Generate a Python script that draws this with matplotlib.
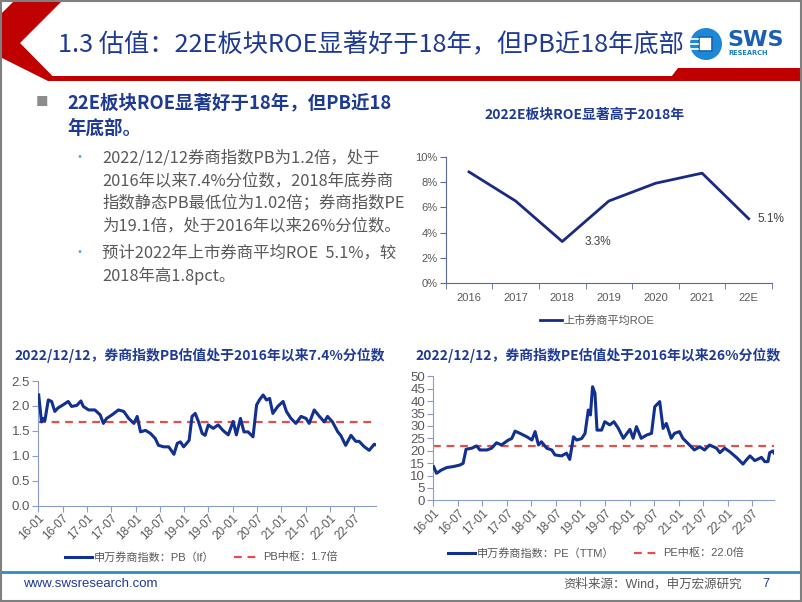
import matplotlib
matplotlib.use("Agg")
import matplotlib.pyplot as plt
import matplotlib.dates as mdates
from matplotlib.patches import Polygon, Rectangle, Circle
from matplotlib.ticker import FormatStrFormatter
import pandas as pd

W, H = 802, 602

# ---- data ----
roe_years = ["2016", "2017", "2018", "2019", "2020", "2021", "22E"]
roe_values = [0.088, 0.065, 0.033, 0.065, 0.079, 0.087, 0.051]
roe_labelled = ["2018", "22E"]

pb_dates = [
    "2016-01-04", "2016-01-25", "2016-02-04", "2016-02-19", "2016-03-16", "2016-04-10",
    "2016-05-04", "2016-05-28", "2016-07-04", "2016-08-13", "2016-09-07", "2016-10-16",
    "2016-11-16", "2016-12-04", "2017-01-13", "2017-03-01", "2017-04-10", "2017-05-04",
    "2017-05-28", "2017-07-07", "2017-08-25", "2017-10-04", "2017-11-10", "2017-12-19",
    "2018-01-13", "2018-02-07", "2018-03-16", "2018-04-22", "2018-05-28", "2018-06-22",
    "2018-08-01", "2018-09-07", "2018-10-16", "2018-11-10", "2018-12-04", "2018-12-28",
    "2019-02-07", "2019-03-01", "2019-03-25", "2019-04-19", "2019-05-16", "2019-06-07",
    "2019-07-01", "2019-08-07", "2019-09-13", "2019-10-19", "2019-11-28", "2020-01-04",
    "2020-01-28", "2020-02-28", "2020-03-25", "2020-04-25", "2020-06-01", "2020-06-28",
    "2020-07-19", "2020-08-16", "2020-09-10", "2020-10-04", "2020-10-28", "2020-12-04",
    "2021-01-13", "2021-02-07", "2021-03-13", "2021-04-19", "2021-05-28", "2021-07-04",
    "2021-07-28", "2021-09-04", "2021-10-13", "2021-11-19", "2021-12-13", "2022-01-19",
    "2022-02-28", "2022-03-22", "2022-04-28", "2022-06-07", "2022-07-13", "2022-08-07",
    "2022-09-16", "2022-10-22", "2022-11-28", "2022-12-12",
]
pb_values = [
    2.22, 1.68, 1.75, 1.70, 2.12, 2.09,
    1.89, 1.96, 2.02, 2.09, 1.99, 2.01,
    2.10, 1.99, 1.92, 1.92, 1.82, 1.65,
    1.75, 1.82, 1.92, 1.89, 1.75, 1.65,
    1.79, 1.48, 1.51, 1.45, 1.35, 1.21,
    1.18, 1.18, 1.03, 1.25, 1.28, 1.18,
    1.31, 1.79, 1.85, 1.68, 1.45, 1.41,
    1.62, 1.55, 1.62, 1.51, 1.42, 1.69,
    1.42, 1.75, 1.48, 1.48, 1.38, 2.02,
    2.12, 2.22, 2.12, 2.15, 1.85, 1.99,
    2.09, 1.89, 1.75, 1.65, 1.79, 1.75,
    1.65, 1.92, 1.79, 1.68, 1.79, 1.68,
    1.48, 1.41, 1.21, 1.41, 1.29, 1.29,
    1.18, 1.11, 1.23, 1.22,
]
pb_center = 1.68

pe_dates = [
    "2016-01-04", "2016-01-25", "2016-03-01", "2016-04-10", "2016-05-28", "2016-07-16",
    "2016-08-10", "2016-09-01", "2016-10-13", "2016-11-19", "2016-12-13", "2017-02-04",
    "2017-03-10", "2017-04-16", "2017-05-22", "2017-07-13", "2017-08-07", "2017-09-01",
    "2017-10-07", "2017-11-28", "2018-01-04", "2018-01-28", "2018-02-22", "2018-03-16",
    "2018-04-25", "2018-06-01", "2018-06-25", "2018-08-13", "2018-09-19", "2018-10-13",
    "2018-11-10", "2018-12-04", "2019-01-10", "2019-02-04", "2019-02-28", "2019-03-16",
    "2019-04-01", "2019-04-19", "2019-05-04", "2019-06-07", "2019-07-01", "2019-08-07",
    "2019-09-07", "2019-10-10", "2019-11-16", "2020-01-04", "2020-01-28", "2020-02-22",
    "2020-03-28", "2020-05-07", "2020-06-13", "2020-07-07", "2020-08-13", "2020-09-07",
    "2020-10-01", "2020-11-07", "2020-12-01", "2021-01-07", "2021-02-01", "2021-03-10",
    "2021-04-28", "2021-06-07", "2021-07-13", "2021-08-19", "2021-10-10", "2021-11-04",
    "2021-12-10", "2022-01-16", "2022-03-07", "2022-04-25", "2022-05-19", "2022-06-16",
    "2022-07-22", "2022-09-10", "2022-10-04", "2022-10-28", "2022-11-10", "2022-12-04",
    "2022-12-12",
]
pe_values = [
    13.5, 10.9, 12.2, 13.2, 13.6, 14.2,
    14.9, 20.6, 21.0, 21.9, 20.3, 20.3,
    21.0, 23.2, 22.3, 24.3, 24.9, 27.9,
    27.0, 25.6, 24.3, 27.7, 22.3, 23.6,
    21.0, 20.3, 18.3, 17.9, 19.0, 16.5,
    25.6, 24.3, 24.9, 27.0, 36.4, 34.4,
    45.8, 43.1, 28.3, 28.3, 31.7, 30.4,
    31.7, 29.0, 25.0, 28.6, 25.0, 29.7,
    25.0, 26.3, 27.0, 37.7, 39.8, 29.0,
    31.0, 25.0, 27.0, 27.7, 25.0, 23.0,
    20.3, 21.6, 20.3, 22.3, 21.0, 19.2,
    21.0, 19.6, 17.3, 14.6, 16.2, 17.9,
    16.0, 17.3, 15.6, 15.6, 19.2, 19.9,
    19.1,
]
pe_center = 22.0

tick_dates = pd.date_range("2016-01-01", "2022-07-01", freq="6MS")

# ---- style ----
NAVY = "#1F3A93"
GREY = "#595959"
LINE = "#12308F"
RED = "#E0504F"
AXIS = "#8A9CC8"
CJK = ["Noto Sans CJK SC", "DejaVu Sans"]
MIX = ["Liberation Sans", "Noto Sans CJK SC"]
plt.rcParams["font.family"] = MIX

fig = plt.figure(figsize=(W / 100, H / 100), dpi=100, facecolor="white")
bg = fig.add_axes([0, 0, 1, 1])
bg.set_xlim(0, W)
bg.set_ylim(H, 0)
bg.axis("off")


def px_axes(x0, y0, x1, y1):
    return fig.add_axes([x0 / W, 1 - y1 / H, (x1 - x0) / W, (y1 - y0) / H])


# header: red chevron + bar
bg.add_patch(Polygon([(15, 0), (63, 0), (20, 43), (52, 75.5), (52, 81), (48, 81), (0, 57), (0, 15)],
                     color="#C00000", lw=0))
bg.add_patch(Rectangle((48, 75.5), W - 48, 5.5, color="#C00000", lw=0))
bg.add_patch(Polygon([(668, 81), (678, 68), (W, 68), (W, 81)], color="#C00000", lw=0))
bg.text(58, 45, "1.3 估值：22E板块ROE显著好于18年，但PB近18年底部", fontsize=18.2,
        color=NAVY, va="center", ha="left", family=CJK)

# logo
bg.add_patch(Circle((706, 44), 16, color="#1E88D6", lw=0))
bg.add_patch(Rectangle((699, 37), 13, 14, facecolor="white", edgecolor="#1565B0", lw=1.2))
for yy in (39, 44, 49):
    bg.plot([688, 698], [yy, yy], color="white", lw=1.2)
bg.text(727, 40, "SWS", fontsize=16, fontweight="bold", color="#1A5FB4",
        family="DejaVu Sans", va="center", ha="left")
bg.text(728, 53, "RESEARCH", fontsize=4.8, fontweight="bold", color="#1A7FC0",
        family="DejaVu Sans", va="center", ha="left")

# bullet text
bg.text(42, 103, "■", fontsize=9, color="#8C8C8C", va="center", ha="center", family=CJK)
bg.text(67, 103, "22E板块ROE显著好于18年，但PB近18", fontsize=13.3, fontweight="bold",
        color=NAVY, va="center", family=CJK)
bg.text(67, 128, "年底部。", fontsize=13.3, fontweight="bold", color=NAVY, va="center", family=CJK)
sub1 = ["2022/12/12券商指数PB为1.2倍，处于", "2016年以来7.4%分位数，2018年底券商",
        "指数静态PB最低位为1.02倍；券商指数PE", "为19.1倍，处于2016年以来26%分位数。"]
sub2 = ["预计2022年上市券商平均ROE  5.1%，较", "2018年高1.8pct。"]
for block, y0 in ((sub1, 158), (sub2, 253)):
    bg.text(79, y0, "•", fontsize=10, color="#4BACC6", va="center", ha="center", family=CJK)
    for i, line in enumerate(block):
        bg.text(102, y0 + i * 22.6, line, fontsize=11.8, color=GREY, va="center", family=CJK)

# ---- ROE chart ----
ax = px_axes(445.7, 156.7, 772, 283.3)
ax.set_facecolor("none")
x = list(range(len(roe_years)))
ax.plot(x, roe_values, color="#1A2A80", lw=2, label="上市券商平均ROE")
for i, yr in enumerate(roe_years):
    if yr in roe_labelled:
        ax.annotate(f"{roe_values[i] * 100:.1f}%", (x[i], roe_values[i]), xytext=(6 if yr == "22E" else 16, 0),
                    textcoords="offset points", va="center", ha="left", fontsize=8.5, color="#404040")
ax.set_xlim(-0.5, len(roe_years) - 0.5)
ax.set_ylim(0, 0.10)
ax.set_yticks([0, 0.02, 0.04, 0.06, 0.08, 0.10])
ax.set_yticklabels([f"{int(round(v * 100))}%" for v in ax.get_yticks()])
ax.set_xticks(x)
ax.set_xticklabels(roe_years)
ax.set_xticks([i - 0.5 for i in range(len(roe_years) + 1)], minor=True)
ax.tick_params(axis="x", which="major", length=0, pad=7, labelsize=8, labelcolor=GREY)
ax.tick_params(axis="x", which="minor", length=4, color="#5A6A9A", direction="out")
ax.tick_params(axis="y", length=4, color="#5A6A9A", labelsize=8, labelcolor=GREY, pad=2)
for s in ("top", "right"):
    ax.spines[s].set_visible(False)
for s in ("left", "bottom"):
    ax.spines[s].set_color("#5A6A9A")
ax.legend(loc="center left", bbox_to_anchor=(540, 320), bbox_transform=bg.transData, frameon=False,
          handlelength=2.0, handletextpad=0.15, borderpad=0, borderaxespad=0,
          labelcolor=GREY, prop={"family": MIX, "size": 8})
bg.text(585, 115, "2022E板块ROE显著高于2018年", fontsize=10, fontweight="bold", color=NAVY,
        ha="center", va="center", family=CJK)


# ---- time series charts ----
def ts_chart(box, dates, values, center, ymax, ystep, fmt, labels, leg_xy, title, title_x):
    a = px_axes(*box)
    a.set_facecolor("none")
    a.plot(pd.to_datetime(dates), values, color=LINE, lw=2.2, label=labels[0], zorder=3)
    a.axhline(center, color=RED, lw=1.6, dashes=(3.5, 2.6), label=labels[1], zorder=2)
    a.set_xlim(pd.Timestamp("2016-01-01"), pd.Timestamp("2022-12-12"))
    a.set_ylim(0, ymax)
    a.set_yticks([i * ystep for i in range(int(round(ymax / ystep)) + 1)])
    a.yaxis.set_major_formatter(FormatStrFormatter(fmt))
    a.set_xticks(tick_dates)
    a.xaxis.set_major_formatter(mdates.DateFormatter("%y-%m"))
    a.tick_params(axis="x", length=4, color=AXIS, labelsize=8.5, labelcolor=GREY, pad=1, labelrotation=45)
    a.tick_params(axis="y", length=4, color=AXIS, labelsize=9.5, labelcolor=GREY, pad=2)
    for lab in a.get_xticklabels():
        lab.set_ha("right")
        lab.set_rotation_mode("anchor")
    for s in ("top", "right"):
        a.spines[s].set_visible(False)
    for s in ("left", "bottom"):
        a.spines[s].set_color(AXIS)
    a.legend(loc="center left", bbox_to_anchor=leg_xy, bbox_transform=bg.transData, frameon=False,
             ncol=2, handlelength=2.4, handletextpad=0.2, columnspacing=1.8, borderpad=0,
             borderaxespad=0, labelcolor=GREY, prop={"family": MIX, "size": 8})
    bg.text(title_x, 355, title, fontsize=10, fontweight="bold", color=NAVY,
            ha="center", va="center", family=CJK)
    return a


ts_chart((38.3, 381, 376, 505.7), pb_dates, pb_values, pb_center, 2.5, 0.5, "%.1f",
         ["申万券商指数：PB（lf）", "PB中枢：1.7倍"], (65, 557),
         "2022/12/12，券商指数PB估值处于2016年以来7.4%分位数", 200)
ts_chart((433.3, 376.3, 774, 500.3), pe_dates, pe_values, pe_center, 50, 5, "%d",
         ["申万券商指数：PE（TTM）", "PE中枢：22.0倍"], (448, 553),
         "2022/12/12，券商指数PE估值处于2016年以来26%分位数", 598)

# footer
bg.plot([2, W - 2], [572, 572], color="#2E8CC0", lw=2)
bg.text(23, 584, "www.swsresearch.com", fontsize=9.5, color=NAVY, va="center", ha="left")
bg.text(563, 584, "资料来源：Wind，申万宏源研究", fontsize=9, color=GREY, va="center", ha="left", family=MIX)
bg.text(762, 584, "7", fontsize=9, color=NAVY, va="center", ha="left")
bg.add_patch(Rectangle((1, 1), W - 2.5, H - 2.5, fill=False, edgecolor="#7F7F7F", lw=1.5, zorder=10))

fig.savefig("out.png", dpi=100, facecolor="white")
